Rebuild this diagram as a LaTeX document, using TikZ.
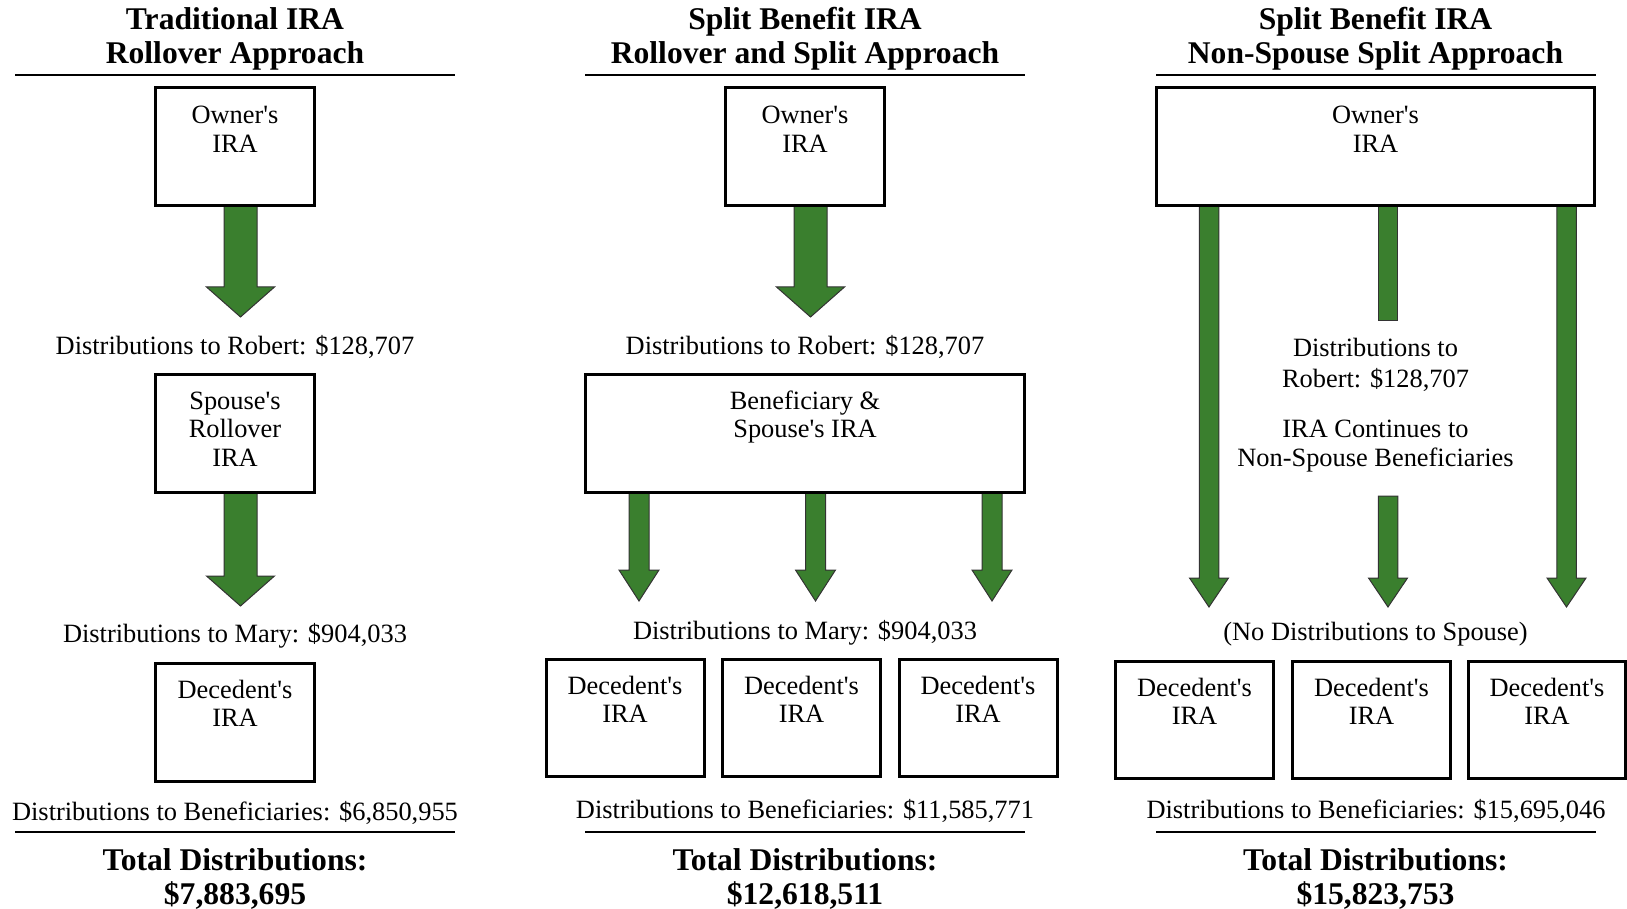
\documentclass[tikz,border=0pt]{standalone}
\usepackage{fontspec}
\setmainfont{Liberation Serif}
\usetikzlibrary{calc,backgrounds}
\definecolor{arrgreen}{RGB}{58,127,46}
\newcommand\ap{\textquotesingle}
\newcommand\ml[1]{\begin{tabular}[t]{@{}c@{}}#1\end{tabular}}
% block arrow: #1 start (top), #2 tip, #3 shaft half width, #4 head half width, #5 head length
\newcommand\barr[5]{%
  \draw[barrow] let \p1=(#1), \p2=(#2) in
    (\x2-#3pt,\y1) -- (\x2-#3pt,\y2+#5pt) -- (\x2-#4pt,\y2+#5pt) -- (\x2,\y2)
    -- (\x2+#4pt,\y2+#5pt) -- (\x2+#3pt,\y2+#5pt) -- (\x2+#3pt,\y1) -- cycle;}
\begin{document}
\begin{tikzpicture}[x=1pt,y=-1pt,
  box/.style={draw=black, line width=3pt, inner sep=0pt, outer sep=0pt, minimum height=118pt},
  txt/.style={inner sep=0pt, anchor=base, font=\fontsize{26.4}{28.5}\selectfont},
  ttl/.style={inner sep=0pt, anchor=base, font=\fontsize{31.6}{34}\selectfont\bfseries},
  rulel/.style={line width=2pt},
  barrow/.style={fill=arrgreen, draw=black!80, line width=1pt, line join=miter}]
\useasboundingbox (0,0) rectangle (1627,909);

% ---------------- Column 1 ----------------
\node[ttl] (h1) at (235,29.5) {\ml{Traditional IRA\\Rollover Approach}};
\coordinate (h1l) at (15,75); \coordinate (h1r) at (455,75);
\draw[rulel] (h1l) -- (h1r);
\node[box, minimum width=159pt] (o1) at (235,146.5) {};
\node[txt] (o1t) at ($(o1.north)+(0,36.5)$) {\ml{Owner\ap s\\IRA}};
\coordinate (o1tip) at (240.5,317);
\node[txt] (r1) at (235,354) {Distributions to Robert: \$128,707};
\node[box, minimum width=159pt] (s1) at (235,433.5) {};
\node[txt] (s1t) at ($(s1.north)+(0,34.5)$) {\ml{Spouse\ap s\\Rollover\\IRA}};
\coordinate (s1tip) at (240.5,606);
\node[txt] (m1) at (235,642) {Distributions to Mary: \$904,033};
\node[box, minimum width=159pt] (d1) at (235,722.5) {};
\node[txt] (d1t) at ($(d1.north)+(0,34.5)$) {\ml{Decedent\ap s\\IRA}};
\node[txt] (b1) at (235,820) {Distributions to Beneficiaries: \$6,850,955};
\coordinate (f1l) at (15,832); \coordinate (f1r) at (455,832);
\draw[rulel] (f1l) -- (f1r);
\node[ttl] (tot1) at (235,870) {\ml{Total Distributions:\\\$7,883,695}};

% ---------------- Column 2 ----------------
\node[ttl] (h2) at (805,29.5) {\ml{Split Benefit IRA\\Rollover and Split Approach}};
\coordinate (h2l) at (585,75); \coordinate (h2r) at (1025,75);
\draw[rulel] (h2l) -- (h2r);
\node[box, minimum width=159pt] (o2) at (805,146.5) {};
\node[txt] (o2t) at ($(o2.north)+(0,36.5)$) {\ml{Owner\ap s\\IRA}};
\coordinate (o2tip) at (810.5,317);
\node[txt] (r2) at (805,354) {Distributions to Robert: \$128,707};
\node[box, minimum width=439pt] (bs2) at (805,433.5) {};
\node[txt] (bs2t) at ($(bs2.north)+(0,34.5)$) {\ml{Beneficiary \&\\Spouse\ap s IRA}};
\coordinate (a2tip) at (639,601);
\coordinate (b2tip) at (815.5,601);
\coordinate (c2tip) at (992,601);
\node[txt] (m2) at (805,639) {Distributions to Mary: \$904,033};
\node[box, minimum width=158pt, minimum height=117pt] (d2a) at (625,718) {};
\node[box, minimum width=158pt, minimum height=117pt] (d2b) at (801.5,718) {};
\node[box, minimum width=158pt, minimum height=117pt] (d2c) at (978,718) {};
\foreach \n in {d2a,d2b,d2c}
  \node[txt] (\n t) at ($(\n.north)+(0,34.5)$) {\ml{Decedent\ap s\\IRA}};
\node[txt] (b2) at (805,818) {Distributions to Beneficiaries: \$11,585,771};
\coordinate (f2l) at (585,832); \coordinate (f2r) at (1025,832);
\draw[rulel] (f2l) -- (f2r);
\node[ttl] (tot2) at (805,870) {\ml{Total Distributions:\\\$12,618,511}};

% ---------------- Column 3 ----------------
\node[ttl] (h3) at (1375.5,29.5) {\ml{Split Benefit IRA\\Non-Spouse Split Approach}};
\coordinate (h3l) at (1156,75); \coordinate (h3r) at (1596,75);
\draw[rulel] (h3l) -- (h3r);
\node[box, minimum width=438pt] (o3) at (1375.5,146.5) {};
\node[txt] (o3t) at ($(o3.north)+(0,36.5)$) {\ml{Owner\ap s\\IRA}};
\coordinate (a3tip) at (1209,607);
\coordinate (b3end) at (1388,320);
\coordinate (b3start) at (1388,496);
\coordinate (b3tip) at (1388,607);
\coordinate (c3tip) at (1566.5,607);
\node[txt] (r3) at (1375.5,356) {\ml{Distributions to\\[2.5pt]Robert: \$128,707}};
\node[txt] (n3) at (1375.5,437.5) {\ml{IRA Continues to\\Non-Spouse Beneficiaries}};
\node[txt] (m3) at (1375.5,640) {(No Distributions to Spouse)};
\node[box, minimum width=158pt, minimum height=117pt] (d3a) at (1194.5,720) {};
\node[box, minimum width=158pt, minimum height=117pt] (d3b) at (1371.5,720) {};
\node[box, minimum width=157pt, minimum height=117pt] (d3c) at (1547,720) {};
\foreach \n in {d3a,d3b,d3c}
  \node[txt] (\n t) at ($(\n.north)+(0,34.5)$) {\ml{Decedent\ap s\\IRA}};
\node[txt] (b3) at (1376,818) {Distributions to Beneficiaries: \$15,695,046};
\coordinate (f3l) at (1156,832); \coordinate (f3r) at (1596,832);
\draw[rulel] (f3l) -- (f3r);
\node[ttl] (tot3) at (1375.5,870) {\ml{Total Distributions:\\\$15,823,753}};

% ---------------- Arrows (behind boxes) ----------------
\begin{scope}[on background layer]
  \barr{o1.south}{o1tip}{16.5}{34}{30}
  \barr{s1.south}{s1tip}{16.5}{34}{30}
  \barr{o2.south}{o2tip}{16.5}{34}{30}
  \barr{bs2.south}{a2tip}{10}{20}{31}
  \barr{bs2.south}{b2tip}{10}{20}{31}
  \barr{bs2.south}{c2tip}{10}{20}{31}
  \barr{o3.south}{a3tip}{9.75}{19.5}{29}
  \draw[barrow] let \p1=(o3.south), \p2=(b3end) in
    (\x2-9.75pt,\y1) rectangle (\x2+9.75pt,\y2);
  \barr{b3start}{b3tip}{9.75}{19.5}{29}
  \barr{o3.south}{c3tip}{9.75}{19.5}{29}
\end{scope}
\end{tikzpicture}
\end{document}
